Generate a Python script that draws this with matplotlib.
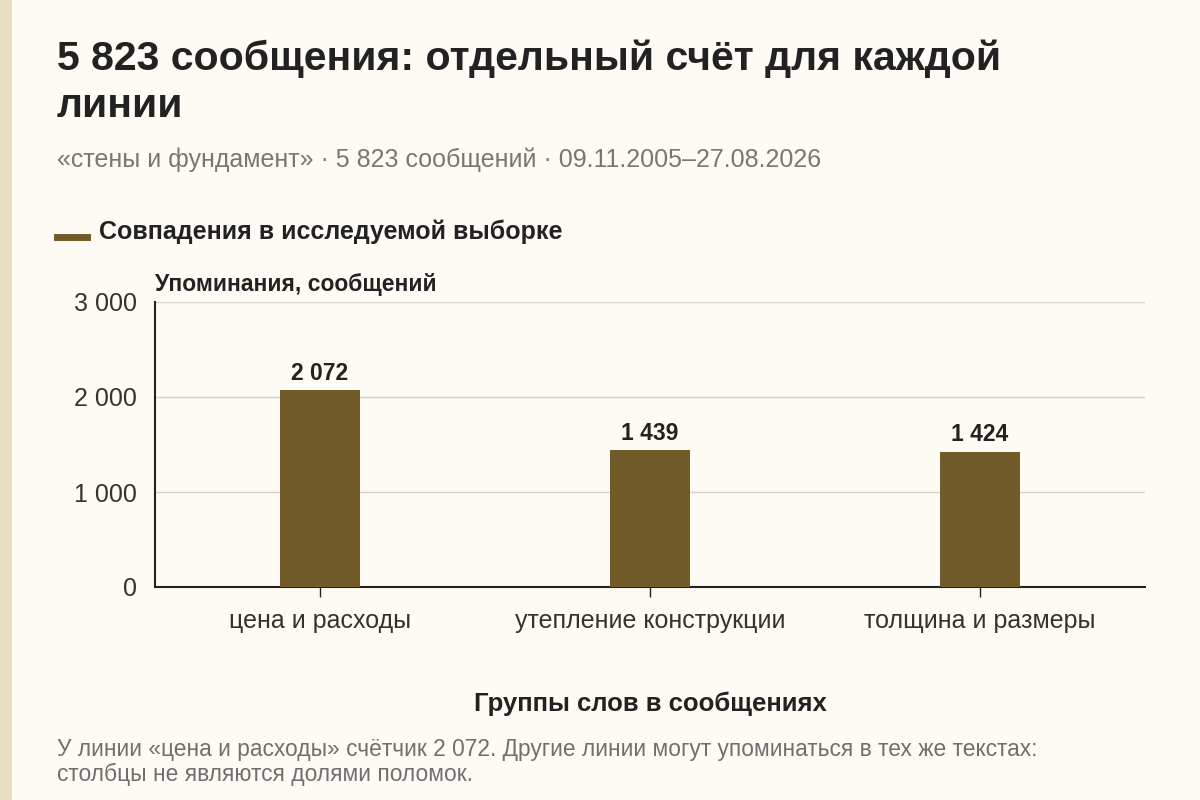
import matplotlib
matplotlib.use("Agg")
import matplotlib.pyplot as plt
from matplotlib.patches import Rectangle
from matplotlib.lines import Line2D

plt.rcParams['font.family'] = ['Liberation Sans', 'DejaVu Sans']

categories = ["цена и расходы", "утепление конструкции", "толщина и размеры"]
counts = [2072, 1439, 1424]
yticks = [0, 1000, 2000, 3000]
ytick_labels = ["0", "1 000", "2 000", "3 000"]

title_lines = ["5 823 сообщения: отдельный счёт для каждой", "линии"]
subtitle = "«стены и фундамент» · 5 823 сообщений · 09.11.2005–27.08.2026"
legend_label = "Совпадения в исследуемой выборке"
note = ("У линии «цена и расходы» счётчик 2 072. Другие линии могут упоминаться в тех же текстах:\n"
        "столбцы не являются долями поломок.")

bg = "#FDFBF3"
bar_color = "#715B28"
dark = "#222222"

fig = plt.figure(figsize=(12, 8), dpi=100, facecolor=bg)
fig.patches.append(Rectangle((0, 0), 12 / 1200, 1, transform=fig.transFigure,
                             facecolor="#E8DDC0", edgecolor="none"))

W, H = 1200, 800
ax = fig.add_axes([155 / W, 1 - 587 / H, 990 / W, 285 / H])
ax.set_facecolor(bg)

x = range(len(categories))
ax.bar(x, counts, width=0.24, color=bar_color, zorder=3)
for xi, v in zip(x, counts):
    ax.text(xi, v + 55, f"{v:,}".replace(",", " "), ha="center", va="bottom",
            fontsize=16.5, fontweight="bold", color=dark)

ax.set_xlim(-0.5, 2.5)
ax.set_ylim(0, 3000)
ax.set_yticks(yticks)
ax.set_yticklabels(ytick_labels)
ax.set_xticks(list(x))
ax.set_xticklabels(categories)
ax.tick_params(axis="y", length=0, labelsize=18, labelcolor="#333333", pad=13)
ax.tick_params(axis="x", length=7, width=1, color=dark, labelsize=18,
               labelcolor="#333333", pad=9)
ax.grid(axis="y", color="#D5D2C8", linewidth=1, zorder=0)
for s in ["top", "right"]:
    ax.spines[s].set_visible(False)
ax.spines["left"].set_color(dark)
ax.spines["bottom"].set_color(dark)
ax.spines["left"].set_linewidth(1.5)
ax.spines["bottom"].set_linewidth(1.5)

ax.set_xlabel("Группы слов в сообщениях", fontsize=18.5, fontweight="bold",
              color=dark, labelpad=42)

fig.text(155 / W, 1 - 285 / H, "Упоминания, сообщений", fontsize=16.5,
         fontweight="bold", color=dark, va="center", ha="left")

# title, one text per line so the spacing can follow the reference
for i, line in enumerate(title_lines):
    fig.text(57 / W, 1 - (70 + 47 * i) / H, line, fontsize=29.5,
             fontweight="bold", color=dark, va="baseline", ha="left")
fig.text(57 / W, 1 - 160 / H, subtitle, fontsize=18, color="#777777",
         va="center", ha="left")

fig.lines.append(Line2D([57 / W, 87 / W], [1 - 237 / H, 1 - 237 / H],
                        transform=fig.transFigure, color=bar_color, linewidth=5))
fig.text(99 / W, 1 - 232 / H, legend_label, fontsize=18, fontweight="bold",
         color=dark, va="center", ha="left")

fig.text(57 / W, 1 - 762 / H, note, fontsize=16.4, color="#6F6F6F",
         va="center", ha="left", linespacing=1.15)

fig.savefig("out.png", dpi=100, facecolor=bg)
